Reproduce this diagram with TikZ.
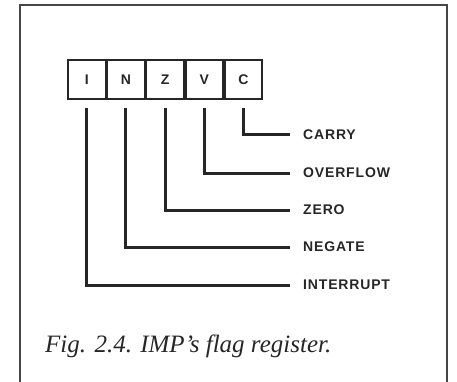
\documentclass[tikz,border=0pt]{standalone}
\usepackage{fontspec}
\setmainfont{Liberation Serif}
\newfontfamily\flagfont[LetterSpace=6]{Liberation Sans}
\usetikzlibrary{positioning}
\definecolor{ink}{RGB}{38,38,38}
\definecolor{rule}{RGB}{70,70,70}
\tikzset{regpic/.style={x=1pt,y=-1pt}}
\tikzset{regbox/.style={draw=ink,line width=1.8pt,minimum width=37.4pt,minimum height=39pt,
                        inner sep=0pt,font=\flagfont\bfseries\fontsize{14}{14}\selectfont,text=ink},
         flagname/.style={anchor=west,inner sep=0pt,text=ink,font=\flagfont\bfseries\fontsize{14}{14}\selectfont},
         flagline/.style={ink,line width=3pt,shorten <=8.5pt,shorten >=13pt}}

\begin{document}
\begin{tikzpicture}[regpic]
    \useasboundingbox (0,0) rectangle (457,382);
    \draw[rule,line width=1.6pt] (20,382) -- (20,5) -- (447,5) -- (447,382);   % frame
    % the five flag bits
    \node[regbox] (regI) at (86.7,79.5) {I};
    \node[regbox,right=0pt of regI] (regN) {N};
    \node[regbox,right=0pt of regN] (regZ) {Z};
    \node[regbox,right=0pt of regZ] (regV) {V};
    \node[regbox,right=0pt of regV] (regC) {C};
    % names
    \node[flagname] (carry)     at (303,135) {CARRY};
    \node[flagname] (overflow)  at (303,173) {OVERFLOW};
    \node[flagname] (zero)      at (303,210) {ZERO};
    \node[flagname] (negate)    at (303,247) {NEGATE};
    \node[flagname] (interrupt) at (303,285) {INTERRUPT};
    \draw[flagline] (regC.south) |- (carry.west);
    \draw[flagline] (regV.south) |- (overflow.west);
    \draw[flagline] (regZ.south) |- (zero.west);
    \draw[flagline] (regN.south) |- (negate.west);
    \draw[flagline] (regI.south) |- (interrupt.west);
    \node[anchor=base west,inner sep=0pt,text=ink,font=\itshape\fontsize{25}{25}\selectfont] (caption) at (45,352)
        {Fig. 2.4. IMP's flag register.};
  \end{tikzpicture}
\end{document}
